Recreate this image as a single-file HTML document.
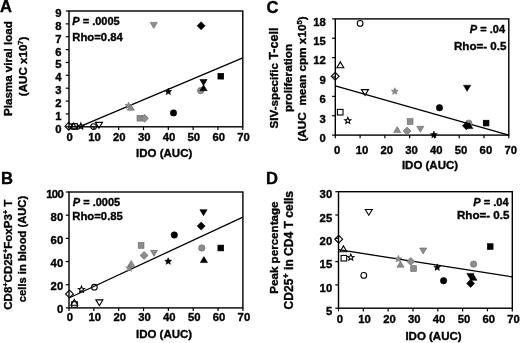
<!DOCTYPE html>
<html><head><meta charset="utf-8"><style>
html,body{margin:0;padding:0;background:#fff;}
svg{display:block;}
text{stroke:#000;stroke-width:0.35px;}
</style></head><body>
<svg width="520" height="343" viewBox="0 0 520 343" font-family="Liberation Sans" font-weight="bold" fill="#000">
<defs><filter id="soft" x="0" y="0" width="100%" height="100%"><feGaussianBlur stdDeviation="0.3"/></filter></defs>
<rect width="520" height="343" fill="#fff"/>
<g filter="url(#soft)">
<rect width="520" height="343" fill="#fff"/>
<rect x="69" y="11" width="173.8" height="115.8" fill="none" stroke="#000" stroke-width="1.4"/>
<line x1="65.8" y1="126.80" x2="69" y2="126.80" stroke="#000" stroke-width="1.2"/>
<text x="61.6" y="132.70" font-size="11.3" text-anchor="end" >0</text>
<line x1="65.8" y1="113.93" x2="69" y2="113.93" stroke="#000" stroke-width="1.2"/>
<text x="61.6" y="119.83" font-size="11.3" text-anchor="end" >1</text>
<line x1="65.8" y1="101.07" x2="69" y2="101.07" stroke="#000" stroke-width="1.2"/>
<text x="61.6" y="106.97" font-size="11.3" text-anchor="end" >2</text>
<line x1="65.8" y1="88.20" x2="69" y2="88.20" stroke="#000" stroke-width="1.2"/>
<text x="61.6" y="94.10" font-size="11.3" text-anchor="end" >3</text>
<line x1="65.8" y1="75.33" x2="69" y2="75.33" stroke="#000" stroke-width="1.2"/>
<text x="61.6" y="81.23" font-size="11.3" text-anchor="end" >4</text>
<line x1="65.8" y1="62.47" x2="69" y2="62.47" stroke="#000" stroke-width="1.2"/>
<text x="61.6" y="68.37" font-size="11.3" text-anchor="end" >5</text>
<line x1="65.8" y1="49.60" x2="69" y2="49.60" stroke="#000" stroke-width="1.2"/>
<text x="61.6" y="55.50" font-size="11.3" text-anchor="end" >6</text>
<line x1="65.8" y1="36.73" x2="69" y2="36.73" stroke="#000" stroke-width="1.2"/>
<text x="61.6" y="42.63" font-size="11.3" text-anchor="end" >7</text>
<line x1="65.8" y1="23.87" x2="69" y2="23.87" stroke="#000" stroke-width="1.2"/>
<text x="61.6" y="29.77" font-size="11.3" text-anchor="end" >8</text>
<line x1="65.8" y1="11.00" x2="69" y2="11.00" stroke="#000" stroke-width="1.2"/>
<text x="61.6" y="16.90" font-size="11.3" text-anchor="end" >9</text>
<line x1="69.00" y1="126.8" x2="69.00" y2="130.0" stroke="#000" stroke-width="1.2"/>
<text x="69.70" y="141.0" font-size="11.3" text-anchor="middle" >0</text>
<line x1="93.83" y1="126.8" x2="93.83" y2="130.0" stroke="#000" stroke-width="1.2"/>
<text x="94.53" y="141.0" font-size="11.3" text-anchor="middle" >10</text>
<line x1="118.66" y1="126.8" x2="118.66" y2="130.0" stroke="#000" stroke-width="1.2"/>
<text x="119.36" y="141.0" font-size="11.3" text-anchor="middle" >20</text>
<line x1="143.49" y1="126.8" x2="143.49" y2="130.0" stroke="#000" stroke-width="1.2"/>
<text x="144.19" y="141.0" font-size="11.3" text-anchor="middle" >30</text>
<line x1="168.31" y1="126.8" x2="168.31" y2="130.0" stroke="#000" stroke-width="1.2"/>
<text x="169.01" y="141.0" font-size="11.3" text-anchor="middle" >40</text>
<line x1="193.14" y1="126.8" x2="193.14" y2="130.0" stroke="#000" stroke-width="1.2"/>
<text x="193.84" y="141.0" font-size="11.3" text-anchor="middle" >50</text>
<line x1="217.97" y1="126.8" x2="217.97" y2="130.0" stroke="#000" stroke-width="1.2"/>
<text x="218.67" y="141.0" font-size="11.3" text-anchor="middle" >60</text>
<line x1="242.80" y1="126.8" x2="242.80" y2="130.0" stroke="#000" stroke-width="1.2"/>
<text x="243.50" y="141.0" font-size="11.3" text-anchor="middle" >70</text>
<line x1="79.2" y1="126.8" x2="242.8" y2="57.9" stroke="#000" stroke-width="1.3"/>
<path d="M64.90 126.30L68.80 122.40L72.70 126.30L68.80 130.20Z" fill="none" stroke="#000" stroke-width="1.1"/>
<path d="M70.00 128.80L73.50 123.00L77.00 128.80Z" fill="none" stroke="#000" stroke-width="1.1"/>
<rect x="71.80" y="123.70" width="5.60" height="5.60" fill="none" stroke="#000" stroke-width="1.1"/>
<path d="M80.80 123.05L81.65 125.13L83.89 125.30L82.18 126.75L82.71 128.93L80.80 127.75L78.89 128.93L79.42 126.75L77.71 125.30L79.95 125.13Z" fill="none" stroke="#000" stroke-width="1.1"/>
<circle cx="93.60" cy="126.60" r="2.85" fill="none" stroke="#000" stroke-width="1.1"/>
<path d="M95.50 122.40L99.00 128.20L102.50 122.40Z" fill="none" stroke="#000" stroke-width="1.1"/>
<path d="M128.50 102.10L129.44 104.41L131.92 104.59L130.02 106.19L130.62 108.61L128.50 107.30L126.38 108.61L126.98 106.19L125.08 104.59L127.56 104.41Z" fill="#8c8c8c" stroke="#6a6a6a" stroke-width="0.6"/>
<path d="M127.20 110.30L130.80 104.30L134.40 110.30Z" fill="#8c8c8c" stroke="#6a6a6a" stroke-width="0.6"/>
<rect x="137.00" y="115.30" width="5.80" height="5.80" fill="#8c8c8c" stroke="#6a6a6a" stroke-width="0.6"/>
<path d="M140.50 118.30L144.50 114.30L148.50 118.30L144.50 122.30Z" fill="#8c8c8c" stroke="#6a6a6a" stroke-width="0.6"/>
<path d="M150.20 22.40L153.80 28.40L157.40 22.40Z" fill="#8c8c8c" stroke="#6a6a6a" stroke-width="0.6"/>
<path d="M168.30 88.10L169.24 90.41L171.72 90.59L169.82 92.19L170.42 94.61L168.30 93.30L166.18 94.61L166.78 92.19L164.88 90.59L167.36 90.41Z" fill="#000" stroke="#000" stroke-width="0.6"/>
<circle cx="173.50" cy="112.90" r="3.20" fill="#000" stroke="#000" stroke-width="0.6"/>
<circle cx="200.60" cy="90.60" r="3.20" fill="#8c8c8c" stroke="#6a6a6a" stroke-width="0.6"/>
<path d="M199.90 79.50L203.50 85.50L207.10 79.50Z" fill="#000" stroke="#000" stroke-width="0.6"/>
<path d="M199.90 90.70L203.50 84.70L207.10 90.70Z" fill="#000" stroke="#000" stroke-width="0.6"/>
<path d="M197.10 25.80L201.10 21.80L205.10 25.80L201.10 29.80Z" fill="#000" stroke="#000" stroke-width="0.6"/>
<rect x="217.90" y="73.30" width="5.80" height="5.80" fill="#000" stroke="#000" stroke-width="0.6"/>
<text x="72.3" y="24.8" font-size="11" text-anchor="start" ><tspan font-style="italic">P</tspan> = .0005</text>
<text x="72.3" y="40.6" font-size="11.3" text-anchor="start" >Rho=0.84</text>
<text x="164.2" y="156.6" font-size="11.5" text-anchor="middle" >IDO (AUC)</text>
<text x="0" y="12.3" font-size="16.6" text-anchor="start" >A</text>
<text transform="translate(12.0,68.6) rotate(-90)" font-size="11.6" text-anchor="middle">Plasma viral load</text>
<text transform="translate(26.9,66.4) rotate(-90)" font-size="11.6" text-anchor="middle">(AUC x10<tspan font-size="7.5" dy="-4">7</tspan><tspan dy="4">)</tspan></text>
<rect x="69" y="192" width="173.9" height="115.89999999999998" fill="none" stroke="#000" stroke-width="1.4"/>
<line x1="65.8" y1="307.90" x2="69" y2="307.90" stroke="#000" stroke-width="1.2"/>
<text x="63.2" y="313.45" font-size="11.3" text-anchor="end" >0</text>
<line x1="65.8" y1="284.72" x2="69" y2="284.72" stroke="#000" stroke-width="1.2"/>
<text x="63.2" y="290.27" font-size="11.3" text-anchor="end" >20</text>
<line x1="65.8" y1="261.54" x2="69" y2="261.54" stroke="#000" stroke-width="1.2"/>
<text x="63.2" y="267.09" font-size="11.3" text-anchor="end" >40</text>
<line x1="65.8" y1="238.36" x2="69" y2="238.36" stroke="#000" stroke-width="1.2"/>
<text x="63.2" y="243.91" font-size="11.3" text-anchor="end" >60</text>
<line x1="65.8" y1="215.18" x2="69" y2="215.18" stroke="#000" stroke-width="1.2"/>
<text x="63.2" y="220.73" font-size="11.3" text-anchor="end" >80</text>
<line x1="65.8" y1="192.00" x2="69" y2="192.00" stroke="#000" stroke-width="1.2"/>
<text x="63.2" y="197.55" font-size="11.3" text-anchor="end" letter-spacing="-0.6">100</text>
<line x1="69.00" y1="307.9" x2="69.00" y2="311.09999999999997" stroke="#000" stroke-width="1.2"/>
<text x="70.00" y="321.0" font-size="11.3" text-anchor="middle" >0</text>
<line x1="93.84" y1="307.9" x2="93.84" y2="311.09999999999997" stroke="#000" stroke-width="1.2"/>
<text x="94.84" y="321.0" font-size="11.3" text-anchor="middle" >10</text>
<line x1="118.69" y1="307.9" x2="118.69" y2="311.09999999999997" stroke="#000" stroke-width="1.2"/>
<text x="119.69" y="321.0" font-size="11.3" text-anchor="middle" >20</text>
<line x1="143.53" y1="307.9" x2="143.53" y2="311.09999999999997" stroke="#000" stroke-width="1.2"/>
<text x="144.53" y="321.0" font-size="11.3" text-anchor="middle" >30</text>
<line x1="168.37" y1="307.9" x2="168.37" y2="311.09999999999997" stroke="#000" stroke-width="1.2"/>
<text x="169.37" y="321.0" font-size="11.3" text-anchor="middle" >40</text>
<line x1="193.21" y1="307.9" x2="193.21" y2="311.09999999999997" stroke="#000" stroke-width="1.2"/>
<text x="194.21" y="321.0" font-size="11.3" text-anchor="middle" >50</text>
<line x1="218.06" y1="307.9" x2="218.06" y2="311.09999999999997" stroke="#000" stroke-width="1.2"/>
<text x="219.06" y="321.0" font-size="11.3" text-anchor="middle" >60</text>
<line x1="242.90" y1="307.9" x2="242.90" y2="311.09999999999997" stroke="#000" stroke-width="1.2"/>
<text x="243.90" y="321.0" font-size="11.3" text-anchor="middle" >70</text>
<line x1="69" y1="298.0" x2="242.9" y2="217.1" stroke="#000" stroke-width="1.3"/>
<path d="M65.60 293.90L69.50 290.00L73.40 293.90L69.50 297.80Z" fill="none" stroke="#000" stroke-width="1.1"/>
<path d="M81.50 286.25L82.35 288.33L84.59 288.50L82.88 289.95L83.41 292.13L81.50 290.95L79.59 292.13L80.12 289.95L78.41 288.50L80.65 288.33Z" fill="none" stroke="#000" stroke-width="1.1"/>
<circle cx="94.40" cy="287.20" r="2.85" fill="none" stroke="#000" stroke-width="1.1"/>
<path d="M70.80 305.20L74.30 299.40L77.80 305.20Z" fill="none" stroke="#000" stroke-width="1.1"/>
<rect x="71.70" y="301.70" width="5.60" height="5.60" fill="none" stroke="#000" stroke-width="1.1"/>
<path d="M95.90 299.90L99.40 305.70L102.90 299.90Z" fill="none" stroke="#000" stroke-width="1.1"/>
<path d="M127.60 266.50L131.20 260.50L134.80 266.50Z" fill="#8c8c8c" stroke="#6a6a6a" stroke-width="0.6"/>
<path d="M129.30 264.70L130.24 267.01L132.72 267.19L130.82 268.79L131.42 271.21L129.30 269.90L127.18 271.21L127.78 268.79L125.88 267.19L128.36 267.01Z" fill="#8c8c8c" stroke="#6a6a6a" stroke-width="0.6"/>
<rect x="138.20" y="242.50" width="5.80" height="5.80" fill="#8c8c8c" stroke="#6a6a6a" stroke-width="0.6"/>
<path d="M140.10 255.40L144.10 251.40L148.10 255.40L144.10 259.40Z" fill="#8c8c8c" stroke="#6a6a6a" stroke-width="0.6"/>
<path d="M150.40 250.30L154.00 256.30L157.60 250.30Z" fill="#8c8c8c" stroke="#6a6a6a" stroke-width="0.6"/>
<path d="M168.20 257.80L169.14 260.11L171.62 260.29L169.72 261.89L170.32 264.31L168.20 263.00L166.08 264.31L166.68 261.89L164.78 260.29L167.26 260.11Z" fill="#000" stroke="#000" stroke-width="0.6"/>
<circle cx="174.30" cy="235.00" r="3.20" fill="#000" stroke="#000" stroke-width="0.6"/>
<path d="M199.90 209.70L203.50 215.70L207.10 209.70Z" fill="#000" stroke="#000" stroke-width="0.6"/>
<path d="M197.20 226.10L201.20 222.10L205.20 226.10L201.20 230.10Z" fill="#000" stroke="#000" stroke-width="0.6"/>
<circle cx="201.80" cy="248.00" r="3.20" fill="#8c8c8c" stroke="#6a6a6a" stroke-width="0.6"/>
<path d="M200.30 262.60L203.90 256.60L207.50 262.60Z" fill="#000" stroke="#000" stroke-width="0.6"/>
<rect x="217.90" y="245.10" width="5.80" height="5.80" fill="#000" stroke="#000" stroke-width="0.6"/>
<text x="72.8" y="205.9" font-size="11" text-anchor="start" ><tspan font-style="italic">P</tspan> = .0005</text>
<text x="72.3" y="220.2" font-size="11.3" text-anchor="start" >Rho=0.85</text>
<text x="164.1" y="338.2" font-size="11.5" text-anchor="middle" >IDO (AUC)</text>
<text x="1" y="184" font-size="16.6" text-anchor="start" >B</text>
<text transform="translate(11.8,254.7) rotate(-90)" font-size="11.5" text-anchor="middle">CD8<tspan font-size="7.3" dy="-4">+</tspan><tspan dy="4">CD25</tspan><tspan font-size="7.3" dy="-4">+</tspan><tspan dy="4">FoxP3</tspan><tspan font-size="7.3" dy="-4">+</tspan><tspan dy="4"> T</tspan></text>
<text transform="translate(25.6,249) rotate(-90)" font-size="11.2" text-anchor="middle">cells in blood (AUC)</text>
<rect x="335.3" y="18.9" width="173.5" height="116.19999999999999" fill="none" stroke="#000" stroke-width="1.4"/>
<line x1="332.1" y1="135.10" x2="335.3" y2="135.10" stroke="#000" stroke-width="1.2"/>
<text x="325.8" y="141.90" font-size="11.3" text-anchor="end" >0</text>
<line x1="332.1" y1="115.73" x2="335.3" y2="115.73" stroke="#000" stroke-width="1.2"/>
<text x="325.8" y="122.53" font-size="11.3" text-anchor="end" >3</text>
<line x1="332.1" y1="96.37" x2="335.3" y2="96.37" stroke="#000" stroke-width="1.2"/>
<text x="325.8" y="103.17" font-size="11.3" text-anchor="end" >6</text>
<line x1="332.1" y1="77.00" x2="335.3" y2="77.00" stroke="#000" stroke-width="1.2"/>
<text x="325.8" y="83.80" font-size="11.3" text-anchor="end" >9</text>
<line x1="332.1" y1="57.63" x2="335.3" y2="57.63" stroke="#000" stroke-width="1.2"/>
<text x="325.8" y="64.43" font-size="11.3" text-anchor="end" >12</text>
<line x1="332.1" y1="38.27" x2="335.3" y2="38.27" stroke="#000" stroke-width="1.2"/>
<text x="325.8" y="45.07" font-size="11.3" text-anchor="end" >15</text>
<line x1="332.1" y1="18.90" x2="335.3" y2="18.90" stroke="#000" stroke-width="1.2"/>
<text x="325.8" y="25.70" font-size="11.3" text-anchor="end" >18</text>
<line x1="335.30" y1="135.1" x2="335.30" y2="138.29999999999998" stroke="#000" stroke-width="1.2"/>
<text x="337.20" y="153.6" font-size="11.3" text-anchor="middle" >0</text>
<line x1="360.09" y1="135.1" x2="360.09" y2="138.29999999999998" stroke="#000" stroke-width="1.2"/>
<text x="361.99" y="153.6" font-size="11.3" text-anchor="middle" >10</text>
<line x1="384.87" y1="135.1" x2="384.87" y2="138.29999999999998" stroke="#000" stroke-width="1.2"/>
<text x="386.77" y="153.6" font-size="11.3" text-anchor="middle" >20</text>
<line x1="409.66" y1="135.1" x2="409.66" y2="138.29999999999998" stroke="#000" stroke-width="1.2"/>
<text x="411.56" y="153.6" font-size="11.3" text-anchor="middle" >30</text>
<line x1="434.44" y1="135.1" x2="434.44" y2="138.29999999999998" stroke="#000" stroke-width="1.2"/>
<text x="436.34" y="153.6" font-size="11.3" text-anchor="middle" >40</text>
<line x1="459.23" y1="135.1" x2="459.23" y2="138.29999999999998" stroke="#000" stroke-width="1.2"/>
<text x="461.13" y="153.6" font-size="11.3" text-anchor="middle" >50</text>
<line x1="484.01" y1="135.1" x2="484.01" y2="138.29999999999998" stroke="#000" stroke-width="1.2"/>
<text x="485.91" y="153.6" font-size="11.3" text-anchor="middle" >60</text>
<line x1="508.80" y1="135.1" x2="508.80" y2="138.29999999999998" stroke="#000" stroke-width="1.2"/>
<text x="510.70" y="153.6" font-size="11.3" text-anchor="middle" >70</text>
<line x1="335.3" y1="85.9" x2="508.8" y2="135.1" stroke="#000" stroke-width="1.3"/>
<circle cx="360.10" cy="23.40" r="2.85" fill="none" stroke="#000" stroke-width="1.1"/>
<path d="M336.80 67.70L340.30 61.90L343.80 67.70Z" fill="none" stroke="#000" stroke-width="1.1"/>
<path d="M331.30 76.30L335.20 72.40L339.10 76.30L335.20 80.20Z" fill="none" stroke="#000" stroke-width="1.1"/>
<path d="M361.50 89.60L365.00 95.40L368.50 89.60Z" fill="none" stroke="#000" stroke-width="1.1"/>
<rect x="337.40" y="109.40" width="5.60" height="5.60" fill="none" stroke="#000" stroke-width="1.1"/>
<path d="M347.80 117.35L348.65 119.43L350.89 119.60L349.18 121.05L349.71 123.23L347.80 122.05L345.89 123.23L346.42 121.05L344.71 119.60L346.95 119.43Z" fill="none" stroke="#000" stroke-width="1.1"/>
<path d="M394.80 87.80L395.74 90.11L398.22 90.29L396.32 91.89L396.92 94.31L394.80 93.00L392.68 94.31L393.28 91.89L391.38 90.29L393.86 90.11Z" fill="#8c8c8c" stroke="#6a6a6a" stroke-width="0.6"/>
<path d="M393.60 132.60L397.20 126.60L400.80 132.60Z" fill="#8c8c8c" stroke="#6a6a6a" stroke-width="0.6"/>
<rect x="407.20" y="118.60" width="5.80" height="5.80" fill="#8c8c8c" stroke="#6a6a6a" stroke-width="0.6"/>
<path d="M403.10 131.10L407.10 127.10L411.10 131.10L407.10 135.10Z" fill="#8c8c8c" stroke="#6a6a6a" stroke-width="0.6"/>
<path d="M416.70 126.30L420.30 132.30L423.90 126.30Z" fill="#8c8c8c" stroke="#6a6a6a" stroke-width="0.6"/>
<path d="M433.90 131.20L434.84 133.51L437.32 133.69L435.42 135.29L436.02 137.71L433.90 136.40L431.78 137.71L432.38 135.29L430.48 133.69L432.96 133.51Z" fill="#000" stroke="#000" stroke-width="0.6"/>
<circle cx="439.50" cy="107.70" r="3.20" fill="#000" stroke="#000" stroke-width="0.6"/>
<path d="M463.50 85.30L467.10 91.30L470.70 85.30Z" fill="#000" stroke="#000" stroke-width="0.6"/>
<circle cx="468.80" cy="123.10" r="3.20" fill="#8c8c8c" stroke="#6a6a6a" stroke-width="0.6"/>
<path d="M462.40 125.80L466.40 121.80L470.40 125.80L466.40 129.80Z" fill="#000" stroke="#000" stroke-width="0.6"/>
<path d="M465.70 128.60L469.30 122.60L472.90 128.60Z" fill="#000" stroke="#000" stroke-width="0.6"/>
<rect x="483.20" y="120.20" width="5.80" height="5.80" fill="#000" stroke="#000" stroke-width="0.6"/>
<text x="505" y="32.9" font-size="11" text-anchor="end" ><tspan font-style="italic">P</tspan> = .04</text>
<text x="506.5" y="49.8" font-size="11.6" text-anchor="end" >Rho=- 0.5</text>
<text x="430" y="169.2" font-size="11.5" text-anchor="middle" >IDO (AUC)</text>
<text x="266.5" y="12.6" font-size="16.6" text-anchor="start" >C</text>
<text transform="translate(278.2,128.4) rotate(-90)" font-size="11.6" textLength="65.3" lengthAdjust="spacingAndGlyphs">SIV-specific</text>
<text transform="translate(278.2,59.8) rotate(-90)" font-size="12.3" textLength="32.2" lengthAdjust="spacingAndGlyphs">T-cell</text>
<text transform="translate(292.2,78) rotate(-90)" font-size="11.7" text-anchor="middle">proliferation</text>
<text transform="translate(306.2,79.0) rotate(-90)" font-size="11.78" text-anchor="middle">(AUC&#160; mean cpm x10<tspan font-size="7.5" dy="-4">5</tspan><tspan dy="4">)</tspan></text>
<rect x="338.5" y="191.7" width="173.79999999999995" height="116.5" fill="none" stroke="#000" stroke-width="1.4"/>
<line x1="335.3" y1="308.20" x2="338.5" y2="308.20" stroke="#000" stroke-width="1.2"/>
<text x="332.2" y="314.80" font-size="11.3" text-anchor="end" >5</text>
<line x1="335.3" y1="284.90" x2="338.5" y2="284.90" stroke="#000" stroke-width="1.2"/>
<text x="332.2" y="291.50" font-size="11.3" text-anchor="end" >10</text>
<line x1="335.3" y1="261.60" x2="338.5" y2="261.60" stroke="#000" stroke-width="1.2"/>
<text x="332.2" y="268.20" font-size="11.3" text-anchor="end" >15</text>
<line x1="335.3" y1="238.30" x2="338.5" y2="238.30" stroke="#000" stroke-width="1.2"/>
<text x="332.2" y="244.90" font-size="11.3" text-anchor="end" >20</text>
<line x1="335.3" y1="215.00" x2="338.5" y2="215.00" stroke="#000" stroke-width="1.2"/>
<text x="332.2" y="221.60" font-size="11.3" text-anchor="end" >25</text>
<line x1="335.3" y1="191.70" x2="338.5" y2="191.70" stroke="#000" stroke-width="1.2"/>
<text x="332.2" y="198.30" font-size="11.3" text-anchor="end" >30</text>
<line x1="338.50" y1="308.2" x2="338.50" y2="311.4" stroke="#000" stroke-width="1.2"/>
<text x="339.80" y="323.2" font-size="11.3" text-anchor="middle" >0</text>
<line x1="363.33" y1="308.2" x2="363.33" y2="311.4" stroke="#000" stroke-width="1.2"/>
<text x="364.63" y="323.2" font-size="11.3" text-anchor="middle" >10</text>
<line x1="388.16" y1="308.2" x2="388.16" y2="311.4" stroke="#000" stroke-width="1.2"/>
<text x="389.46" y="323.2" font-size="11.3" text-anchor="middle" >20</text>
<line x1="412.99" y1="308.2" x2="412.99" y2="311.4" stroke="#000" stroke-width="1.2"/>
<text x="414.29" y="323.2" font-size="11.3" text-anchor="middle" >30</text>
<line x1="437.81" y1="308.2" x2="437.81" y2="311.4" stroke="#000" stroke-width="1.2"/>
<text x="439.11" y="323.2" font-size="11.3" text-anchor="middle" >40</text>
<line x1="462.64" y1="308.2" x2="462.64" y2="311.4" stroke="#000" stroke-width="1.2"/>
<text x="463.94" y="323.2" font-size="11.3" text-anchor="middle" >50</text>
<line x1="487.47" y1="308.2" x2="487.47" y2="311.4" stroke="#000" stroke-width="1.2"/>
<text x="488.77" y="323.2" font-size="11.3" text-anchor="middle" >60</text>
<line x1="512.30" y1="308.2" x2="512.30" y2="311.4" stroke="#000" stroke-width="1.2"/>
<text x="513.60" y="323.2" font-size="11.3" text-anchor="middle" >70</text>
<line x1="338.5" y1="249.7" x2="512.3" y2="276.9" stroke="#000" stroke-width="1.3"/>
<path d="M365.30 209.50L368.80 215.30L372.30 209.50Z" fill="none" stroke="#000" stroke-width="1.1"/>
<path d="M334.80 239.20L338.70 235.30L342.60 239.20L338.70 243.10Z" fill="none" stroke="#000" stroke-width="1.1"/>
<path d="M339.90 251.70L343.40 245.90L346.90 251.70Z" fill="none" stroke="#000" stroke-width="1.1"/>
<rect x="341.10" y="255.40" width="5.60" height="5.60" fill="none" stroke="#000" stroke-width="1.1"/>
<path d="M350.80 254.15L351.65 256.23L353.89 256.40L352.18 257.85L352.71 260.03L350.80 258.85L348.89 260.03L349.42 257.85L347.71 256.40L349.95 256.23Z" fill="none" stroke="#000" stroke-width="1.1"/>
<circle cx="363.80" cy="275.40" r="2.85" fill="none" stroke="#000" stroke-width="1.1"/>
<path d="M419.60 248.00L423.20 254.00L426.80 248.00Z" fill="#8c8c8c" stroke="#6a6a6a" stroke-width="0.6"/>
<path d="M398.40 255.40L399.34 257.71L401.82 257.89L399.92 259.49L400.52 261.91L398.40 260.60L396.28 261.91L396.88 259.49L394.98 257.89L397.46 257.71Z" fill="#8c8c8c" stroke="#6a6a6a" stroke-width="0.6"/>
<path d="M396.90 267.20L400.50 261.20L404.10 267.20Z" fill="#8c8c8c" stroke="#6a6a6a" stroke-width="0.6"/>
<path d="M406.80 261.40L410.80 257.40L414.80 261.40L410.80 265.40Z" fill="#8c8c8c" stroke="#6a6a6a" stroke-width="0.6"/>
<rect x="410.70" y="265.70" width="5.80" height="5.80" fill="#8c8c8c" stroke="#6a6a6a" stroke-width="0.6"/>
<path d="M437.20 263.90L438.14 266.21L440.62 266.39L438.72 267.99L439.32 270.41L437.20 269.10L435.08 270.41L435.68 267.99L433.78 266.39L436.26 266.21Z" fill="#000" stroke="#000" stroke-width="0.6"/>
<circle cx="443.60" cy="280.70" r="3.20" fill="#000" stroke="#000" stroke-width="0.6"/>
<rect x="487.30" y="243.70" width="5.80" height="5.80" fill="#000" stroke="#000" stroke-width="0.6"/>
<circle cx="473.60" cy="264.10" r="3.20" fill="#8c8c8c" stroke="#6a6a6a" stroke-width="0.6"/>
<path d="M466.80 273.40L470.40 279.40L474.00 273.40Z" fill="#000" stroke="#000" stroke-width="0.6"/>
<path d="M469.80 280.30L473.40 274.30L477.00 280.30Z" fill="#000" stroke="#000" stroke-width="0.6"/>
<path d="M466.60 283.40L470.60 279.40L474.60 283.40L470.60 287.40Z" fill="#000" stroke="#000" stroke-width="0.6"/>
<text x="508.5" y="205.6" font-size="11" text-anchor="end" ><tspan font-style="italic">P</tspan> = .04</text>
<text x="509.5" y="218.5" font-size="11.6" text-anchor="end" >Rho=- 0.5</text>
<text x="433.5" y="340.2" font-size="11.5" text-anchor="middle" >IDO (AUC)</text>
<text x="266" y="184.3" font-size="16.6" text-anchor="start" >D</text>
<text transform="translate(278.3,247.6) rotate(-90)" font-size="11.6" text-anchor="middle">Peak percentage</text>
<text transform="translate(293.4,250.2) rotate(-90)" font-size="12.05" text-anchor="middle">CD25<tspan font-size="8.6" dy="-4.6" dx="0.3">+</tspan><tspan dy="4.6"> in CD4 T cells</tspan></text>
</g>
</svg>
</body></html>
